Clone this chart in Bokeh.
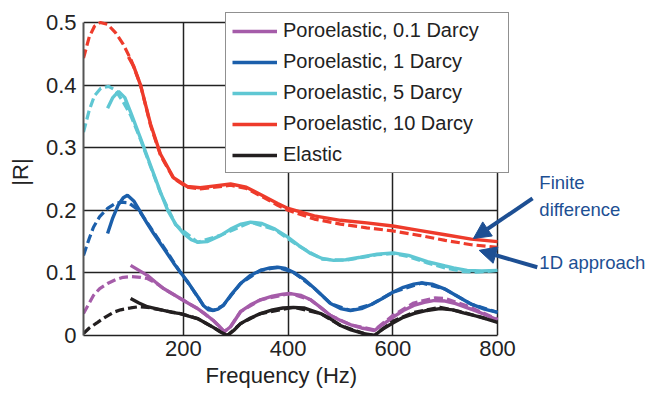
from bokeh.plotting import figure
from bokeh.models import Range1d, FixedTicker, Legend, LegendItem, Label, Arrow, NormalHead, Title
from bokeh.embed import file_html
from bokeh.resources import INLINE

FONT = "Liberation Sans"
X_START, X_END = 9, 800
Y_START, Y_END = 0, 0.5

# ---------------- data (|R| versus frequency in Hz) ----------------
# Finite difference (solid)
fd_01_x = [99, 115, 131, 147, 162, 178, 194, 210, 227, 242, 257, 267, 278, 290, 309, 328, 347, 370, 390, 404, 425, 443, 462, 481, 500, 520, 540, 565, 580, 600, 620, 640, 660, 680, 700, 720, 740, 760, 780, 800]
fd_01_y = [0.112, 0.104, 0.096, 0.085, 0.075, 0.067, 0.059, 0.051, 0.043, 0.034, 0.024, 0.016, 0.006, 0.014, 0.038, 0.049, 0.057, 0.063, 0.066, 0.067, 0.064, 0.057, 0.045, 0.032, 0.024, 0.017, 0.012, 0.008, 0.017, 0.029, 0.040, 0.048, 0.053, 0.056, 0.055, 0.051, 0.045, 0.039, 0.032, 0.025]

fd_1_x = [55, 65, 75, 85, 93, 105, 118, 130, 143, 156, 169, 181, 194, 207, 219, 229, 238, 248, 257, 266, 276, 290, 309, 328, 347, 365, 380, 395, 410, 430, 448, 465, 481, 500, 519, 540, 560, 580, 600, 620, 640, 655, 675, 700, 725, 750, 775, 800]
fd_1_y = [0.163, 0.188, 0.208, 0.220, 0.224, 0.215, 0.197, 0.180, 0.163, 0.147, 0.131, 0.116, 0.101, 0.087, 0.072, 0.060, 0.048, 0.041, 0.040, 0.042, 0.048, 0.064, 0.083, 0.096, 0.104, 0.108, 0.109, 0.107, 0.101, 0.090, 0.077, 0.064, 0.051, 0.043, 0.040, 0.043, 0.050, 0.059, 0.069, 0.077, 0.082, 0.084, 0.082, 0.074, 0.062, 0.050, 0.042, 0.037]

fd_5_x = [55, 65, 76, 88, 99, 118, 137, 156, 170, 185, 200, 215, 227, 245, 271, 290, 310, 328, 350, 375, 398, 420, 443, 465, 487, 510, 538, 570, 601, 630, 666, 700, 716, 742, 770, 800]
fd_5_y = [0.363, 0.380, 0.390, 0.380, 0.357, 0.315, 0.272, 0.229, 0.200, 0.178, 0.163, 0.153, 0.149, 0.150, 0.160, 0.170, 0.178, 0.181, 0.179, 0.170, 0.158, 0.144, 0.131, 0.123, 0.120, 0.121, 0.125, 0.130, 0.132, 0.128, 0.118, 0.111, 0.108, 0.104, 0.103, 0.104]

fd_10_x = [95, 105, 118, 137, 156, 181, 207, 232, 260, 290, 320, 350, 380, 400, 450, 500, 550, 600, 650, 700, 750, 800]
fd_10_y = [0.445, 0.430, 0.400, 0.338, 0.290, 0.252, 0.238, 0.236, 0.239, 0.242, 0.237, 0.224, 0.211, 0.203, 0.191, 0.184, 0.180, 0.175, 0.168, 0.161, 0.154, 0.150]

fd_el_x = [99, 115, 131, 147, 162, 178, 194, 210, 227, 242, 257, 270, 284, 296, 309, 328, 347, 370, 390, 410, 430, 462, 480, 500, 520, 545, 565, 580, 600, 620, 640, 665, 690, 715, 735, 760, 780, 800]
fd_el_y = [0.059, 0.052, 0.046, 0.043, 0.040, 0.037, 0.035, 0.031, 0.027, 0.020, 0.013, 0.006, 0.000, 0.008, 0.019, 0.028, 0.035, 0.041, 0.044, 0.045, 0.044, 0.035, 0.027, 0.016, 0.009, 0.003, 0.000, 0.010, 0.020, 0.029, 0.035, 0.040, 0.043, 0.041, 0.036, 0.031, 0.026, 0.021]

# 1D approach (dashed)
od_01_x = [9, 20, 28, 40, 55, 70, 85, 100, 118, 131, 147, 162, 194, 227, 257, 278, 290, 309, 347, 404, 443, 481, 520, 565, 600, 640, 680, 700, 740, 800]
od_01_y = [0.035, 0.052, 0.064, 0.075, 0.083, 0.089, 0.093, 0.094, 0.093, 0.091, 0.084, 0.075, 0.059, 0.043, 0.024, 0.006, 0.014, 0.038, 0.057, 0.067, 0.057, 0.032, 0.017, 0.009, 0.032, 0.052, 0.060, 0.059, 0.048, 0.026]

od_1_x = [9, 20, 28, 40, 55, 68, 80, 95, 110, 118, 143, 169, 194, 219, 238, 257, 276, 309, 347, 380, 410, 448, 481, 519, 560, 600, 655, 700, 750, 800]
od_1_y = [0.128, 0.155, 0.173, 0.190, 0.203, 0.210, 0.213, 0.212, 0.203, 0.196, 0.165, 0.133, 0.101, 0.072, 0.048, 0.040, 0.048, 0.083, 0.104, 0.109, 0.101, 0.077, 0.051, 0.040, 0.050, 0.069, 0.084, 0.074, 0.050, 0.037]

od_5_x = [9, 20, 30, 42, 57, 70, 85, 99, 118, 137, 156, 185, 227, 271, 328, 375, 420, 465, 510, 570, 601, 630, 666, 700, 735, 760, 800]
od_5_y = [0.325, 0.360, 0.383, 0.395, 0.398, 0.392, 0.373, 0.352, 0.313, 0.270, 0.228, 0.177, 0.149, 0.160, 0.181, 0.169, 0.143, 0.122, 0.120, 0.129, 0.131, 0.126, 0.116, 0.108, 0.102, 0.101, 0.104]

od_10_x = [9, 20, 30, 41, 55, 70, 85, 100, 118, 137, 156, 181, 207, 232, 260, 290, 320, 350, 380, 400, 450, 500, 550, 600, 650, 700, 750, 800]
od_10_y = [0.443, 0.477, 0.494, 0.500, 0.497, 0.484, 0.465, 0.440, 0.400, 0.336, 0.288, 0.251, 0.237, 0.234, 0.237, 0.240, 0.235, 0.222, 0.208, 0.200, 0.186, 0.178, 0.172, 0.167, 0.160, 0.152, 0.145, 0.141]

od_el_x = [9, 20, 36, 50, 66, 80, 99, 115, 131, 162, 194, 227, 257, 284, 309, 347, 410, 462, 500, 545, 565, 600, 640, 690, 735, 800]
od_el_y = [0.003, 0.012, 0.021, 0.029, 0.037, 0.041, 0.044, 0.046, 0.045, 0.040, 0.035, 0.027, 0.013, 0.000, 0.019, 0.035, 0.045, 0.035, 0.016, 0.003, 0.000, 0.023, 0.037, 0.045, 0.037, 0.022]

labels = ["Poroelastic, 0.1 Darcy", "Poroelastic, 1 Darcy", "Poroelastic, 5 Darcy", "Poroelastic, 10 Darcy", "Elastic"]
colors = ["#a55ca9", "#1b5fab", "#5fc7d3", "#ee3b2b", "#231f20"]
x_ticks = [200, 400, 600, 800]
y_ticks = [0, 0.1, 0.2, 0.3, 0.4, 0.5]

fd_series = [(fd_01_x, fd_01_y), (fd_1_x, fd_1_y), (fd_5_x, fd_5_y), (fd_10_x, fd_10_y), (fd_el_x, fd_el_y)]
od_series = [(od_01_x, od_01_y), (od_1_x, od_1_y), (od_5_x, od_5_y), (od_10_x, od_10_y), (od_el_x, od_el_y)]

# ---------------- figure ----------------
# The frame reaches the right edge and near the top of the canvas so that the legend
# and the arrow annotations (which lie outside the data box) are not clipped.
PX_PER_X = 414.0 / (X_END - X_START)      # data box is 414 px wide
PX_PER_Y = 313.0 / (Y_END - Y_START)      # data box is 313 px tall
W, H = 647, 395
ML, MB, MT = 83, 60, 8
x_hi = X_START + (W - ML) / PX_PER_X
y_hi = Y_START + (H - MB - MT) / PX_PER_Y

p = figure(width=W, height=H, output_backend="svg", toolbar_location=None,
           x_range=Range1d(X_START, x_hi), y_range=Range1d(Y_START, y_hi),
           min_border_left=ML, min_border_right=0, min_border_top=MT, min_border_bottom=MB)
p.background_fill_color = "white"
p.border_fill_color = "white"
p.outline_line_color = None

p.xgrid.ticker = FixedTicker(ticks=[200, 400, 600, 800])
p.xgrid.cross_bounds = (Y_START, Y_END)
p.ygrid.ticker = FixedTicker(ticks=[0.1, 0.2, 0.3, 0.4, 0.5])
p.ygrid.cross_bounds = (X_START, X_END)
p.grid.grid_line_color = "#222222"
p.grid.grid_line_width = 1.5
p.grid.grid_line_alpha = 1.0

p.xaxis.ticker = FixedTicker(ticks=x_ticks)
p.xaxis.bounds = (X_START, X_END)
p.xaxis.major_tick_out = 0
p.xaxis.major_tick_in = 0
p.xaxis.minor_tick_out = 0
p.xaxis.minor_tick_in = 0
p.xaxis.axis_line_color = "#222222"
p.xaxis.axis_line_width = 1.5
p.xaxis.major_label_standoff = 5
p.xaxis.major_label_text_font = FONT
p.xaxis.major_label_text_font_size = "22px"
p.xaxis.major_label_text_color = "#222222"

# x axis title, placed under the data box (the frame itself extends further right)
p.add_layout(Title(text="Frequency (Hz)", align="left", offset=122, standoff=5,
                   text_font=FONT, text_font_size="22px", text_font_style="normal",
                   text_color="#222222"), "below")

p.yaxis.ticker = FixedTicker(ticks=y_ticks)
p.yaxis.bounds = (Y_START, Y_END)
p.yaxis.formatter.use_scientific = False
p.yaxis.major_label_overrides = {0: "0"}
p.yaxis.major_tick_out = 0
p.yaxis.major_tick_in = 0
p.yaxis.minor_tick_out = 0
p.yaxis.minor_tick_in = 0
p.yaxis.axis_line_color = "#555555"
p.yaxis.axis_line_width = 2
p.yaxis.major_label_standoff = 7
p.yaxis.major_label_text_font = FONT
p.yaxis.major_label_text_font_size = "22px"
p.yaxis.major_label_text_color = "#222222"
p.yaxis.axis_label = "|R|"
p.yaxis.axis_label_text_font = FONT
p.yaxis.axis_label_text_font_size = "22px"
p.yaxis.axis_label_text_font_style = "normal"
p.yaxis.axis_label_text_color = "#222222"
p.yaxis.axis_label_standoff = 10

# dashed (1D approach) curves
for (xs, ys), c in zip(od_series, colors):
    p.line(xs, ys, line_color=c, line_width=3.2, line_dash="9 4")

# solid (finite difference) curves
solid = []
for (xs, ys), c in zip(fd_series, colors):
    solid.append(p.line(xs, ys, line_color=c, line_width=3.4))

legend = Legend(items=[LegendItem(label=l, renderers=[r]) for l, r in zip(labels, solid)],
                location=(142, 162), orientation="vertical")
legend.label_text_font = FONT
legend.label_text_font_size = "20px"
legend.label_text_color = "#222222"
legend.glyph_width = 45
legend.glyph_height = 20
legend.label_height = 20
legend.label_width = 219
legend.label_standoff = 6
legend.spacing = 8
legend.padding = 6
legend.margin = 0
legend.border_line_color = "#222222"
legend.border_line_width = 1.5
legend.background_fill_color = "white"
legend.background_fill_alpha = 1.0
p.add_layout(legend)

# annotations
ANN = "#1d4f93"
p.add_layout(Label(x=880, y=0.2448, text="Finite", text_font=FONT, text_font_size="18.5px",
                   text_color=ANN, text_baseline="alphabetic"))
p.add_layout(Label(x=880, y=0.2016, text="difference", text_font=FONT, text_font_size="18.5px",
                   text_color=ANN, text_baseline="alphabetic"))
p.add_layout(Label(x=880, y=0.117, text="1D approach", text_font=FONT, text_font_size="18.5px",
                   text_color=ANN, text_baseline="alphabetic"))
p.add_layout(Arrow(x_start=867, y_start=0.219, x_end=754, y_end=0.155,
                   line_color=ANN, line_width=4,
                   end=NormalHead(size=17, fill_color=ANN, line_color=ANN)))
p.add_layout(Arrow(x_start=876, y_start=0.109, x_end=765, y_end=0.136,
                   line_color=ANN, line_width=4,
                   end=NormalHead(size=17, fill_color=ANN, line_color=ANN)))

open("out.html", "w").write(file_html(p, INLINE))
